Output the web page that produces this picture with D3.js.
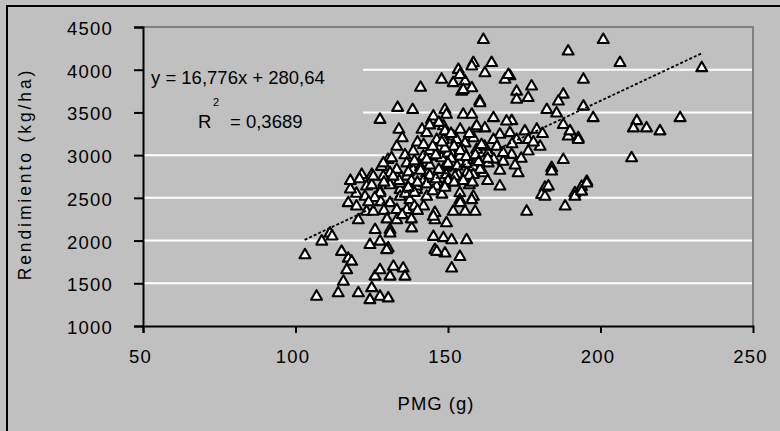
<!DOCTYPE html>
<html><head><meta charset="utf-8">
<script src="https://cdn.jsdelivr.net/npm/d3@7"></script>
<style>
html,body{margin:0;padding:0;background:#c0c0c0;}
svg{display:block;}
text{font-family:"Liberation Sans",Arial,sans-serif;fill:#000;}
</style></head>
<body>
<svg id="chart" width="780" height="431"></svg>
<script>
// ---- data ----
const pmg = [
161.6,200.9,189.4,206.4,164.3,158.3,233.2,153.4,162.1,170.3,168.7,147.9,151.7,155.6,157.8,154.5,141,177.4,172.5,172.5,176.3,187.8,186.2,194.4,194.4,182.4,185.6,160.4,149,155,157.8,164.9,170.9,175.2,179.1,187.8,189.4,192.7,162.1,158.9,167,170.3,172.5,176.3,180.2,176.3,170.9,168.1,187.8,184,173,148.5,148.5,151.7,155.6,159.4,163.2,151.2,153.9,149,158.3,161.6,153.4,
197.6,211.9,210.8,215.1,219.5,226.1,210.2,195.5,193.8,191.6,181.8,180.7,190,192.7,
133.5,138.4,127.7,133.9,144.6,141.5,133.2,135.9,130.3,128.2,121.7,125,133.2,138.5,146.3,
145.2,149.5,143,138.6,146.3,152.8,131.5,136.5,141.9,147.9,153.9,159.4,131,136.5,143,149.5,156.1,160.5,167,123.3,127.7,134.3,139.7,146.3,153.9,158.3,152.3,149,158.3,184,182.9,181.8,175.8,188.4,191.6,193.8,195.5,
153.9,157.8,151.7,155.6,158.9,149.5,148.5,151.2,156.1,149,153.9,151.2,145.7,145.7,145.2,145.7,154,146.3,
103.1,106.9,114,120.6,124.4,127.7,130.4,125,115.7,116.8,117.3,115.1,118.4,126.1,127.7,132.1,135.3,131,135.9,108.6,111.3,124.4,127.7,130.4,126.1,131,138.1,120.6,117.3,120,123.3,125.5,125,122.8,127.7,131,134.3,136.5,133.2,131,128.8,134.3,139.7,143,145.2,137.5,133.2,129.9,
153.9,157.8,169.8,155,160.5,169.2,149,159.4,158.3,164.9,168.1,128.8,163.2,125.5,
142,144,147,150,152,155,157,145,141,139,150,156,162,165,163,148,150,144,137,140,135,138,131,129,126,124,120,118,136,142,139,128,129,166,171,174,178,181,172,167,
130,135,138,140,118,121,112,
143,146,149,151,154,156,159,161,141,144,147,150,153,157,160,163,140,143,146,149,152,155,158,142,145,148,151,154,157,139,137,134,132,144,147
];
const rendimiento = [
4350,4350,4215,4080,4080,4080,4020,4000,3960,3925,3885,3885,3845,3865,3785,3745,3790,3805,3745,3650,3670,3710,3630,3885,3570,3530,3490,3630,3530,3475,3475,3435,3400,3280,3300,3355,3220,3200,3315,3315,3240,3260,3180,3180,3100,3045,3005,2925,2945,2850,2790,3340,3180,3220,3140,3065,3025,3025,2910,2865,2865,2790,2770,
3435,3400,3315,3315,3280,3435,2965,2690,2630,2555,2620,2535,3280,3180,
3555,3530,3415,3300,3415,3300,3100,3000,2945,2865,2770,2770,2830,2830,2985,
3455,3475,3260,3045,3180,3180,2965,2905,2985,2965,2985,2945,2790,2750,2790,2770,2790,2830,2635,2635,2575,2595,2595,2635,2555,2515,2750,2650,2770,2810,2635,2515,2340,2400,2515,2575,2670,
2475,2475,2340,2340,2340,2205,2030,2005,2005,1850,1810,1675,2325,2240,2045,1890,2440,1870,
1830,1345,1385,1385,1305,1345,1325,1445,1520,1655,1790,1870,1755,1580,1655,1695,1675,1580,1580,1990,2085,1950,1990,1910,2125,2125,2145,2240,2440,2400,2340,2340,2650,2515,2555,2440,2515,2360,2240,2085,2750,2670,2635,2515,2280,2475,2360,1890,
3940,4040,3940,3765,3610,3395,3280,3340,3200,3180,3025,2905,2905,2750,
2700,2880,3080,2700,3100,3050,2650,2580,2860,2930,2880,2900,3100,2950,2700,2540,3020,3050,2800,3150,3200,2700,2650,2680,2500,2450,2550,2600,2550,2400,2400,2450,2350,3100,3130,2960,3150,3250,2880,2820,
2250,2300,2250,2350,2700,2720,2050,
2950,3000,3080,2960,3050,2980,3000,3120,2820,2760,2830,2900,2870,2760,2920,2960,2680,2660,2720,2620,2680,2700,2680,3120,3100,3150,3250,3300,3250,2560,2620,2700,2750,3350,3380
];
const xTicks = [50,100,150,200,250];
const yTicks = [1000,1500,2000,2500,3000,3500,4000,4500];
const slope = 16.776, intercept = 280.64;
const trendX = [103, 233];
const eqText = "y = 16,776x + 280,64";
const r2Text = "= 0,3689";
const xTitle = "PMG (g)";
const yTitle = "Rendimiento (kg/ha)";

// ---- drawing ----
const svg = d3.select("#chart");
const L = 143, R = 753, T = 27, B = 326;
const x = d3.scaleLinear().domain([50,250]).range([L,R]);
const y = d3.scaleLinear().domain([1000,4500]).range([B,T]);

svg.append("rect").attr("x",7).attr("y",6).attr("width",800).attr("height",460)
  .attr("fill","#c0c0c0").attr("stroke","#000").attr("stroke-width",2);

svg.append("g").selectAll("line").data(yTicks.filter(d=>d>1000 && d<4500)).join("line")
  .attr("x1",L).attr("x2",R).attr("y1",d=>y(d)).attr("y2",d=>y(d))
  .attr("stroke","#ffffff").attr("stroke-width",2);

svg.append("path").attr("d",`M${L},${T}H${R}V${B}`).attr("fill","none")
  .attr("stroke","#808080").attr("stroke-width",2);

svg.append("rect").attr("x",L+1).attr("y",58).attr("width",363-L-1).attr("height",78)
  .attr("fill","#c0c0c0");

const xAxis = svg.append("g").attr("transform",`translate(0,${B})`)
  .call(d3.axisBottom(x).tickValues(xTicks).tickSize(7).tickPadding(17).tickFormat(d3.format("d")));
const yAxis = svg.append("g").attr("transform",`translate(${L},0)`)
  .call(d3.axisLeft(y).tickValues(yTicks).tickSize(9).tickPadding(21).tickFormat(d3.format("d")));
[xAxis,yAxis].forEach(g=>{
  g.select(".domain").attr("stroke","#000").attr("stroke-width",2);
  g.selectAll(".tick line").attr("stroke","#000").attr("stroke-width",2);
  g.selectAll(".tick text").style("font-family","'Liberation Sans',Arial,sans-serif")
    .style("font-size","18.5px").style("letter-spacing","1.2px").attr("fill","#000");
});
xAxis.selectAll(".tick").filter(d=>d===250).select("line").remove();
xAxis.selectAll(".tick text").attr("dx","-3");
yAxis.selectAll(".tick text").attr("dy","0.62em").attr("y",-4);

const pts = pmg.map((v,i)=>[v, rendimiento[i]]);
const tri = d3.symbol().type(d3.symbolTriangle).size(52);
svg.append("g").selectAll("path").data(pts).join("path")
  .attr("d",tri).attr("transform",d=>`translate(${x(d[0])},${y(d[1])})`)
  .attr("fill","#fff").attr("stroke","#000").attr("stroke-width",2.1).attr("stroke-linejoin","round");

svg.append("line")
  .attr("x1",x(trendX[0])).attr("y1",y(slope*trendX[0]+intercept))
  .attr("x2",x(trendX[1])).attr("y2",y(slope*trendX[1]+intercept))
  .attr("stroke","#000").attr("stroke-width",1.8).attr("stroke-dasharray","3,2");

const fs = "18.5px";
svg.append("text").attr("x",151).attr("y",84).style("font-size",fs).text(eqText);
svg.append("text").attr("x",198).attr("y",128).style("font-size",fs).text("R");
svg.append("text").attr("x",213).attr("y",106).style("font-size","11px").text("2");
svg.append("text").attr("x",230).attr("y",128).style("font-size",fs).text(r2Text);

svg.append("text").attr("x",436).attr("y",410).attr("text-anchor","middle")
  .style("font-size",fs).style("letter-spacing","1px").text(xTitle);
svg.append("text").attr("transform","translate(31,174) rotate(-90)").attr("text-anchor","middle")
  .style("font-size","17.5px").style("letter-spacing","2.9px").text(yTitle);
</script>
</body></html>
